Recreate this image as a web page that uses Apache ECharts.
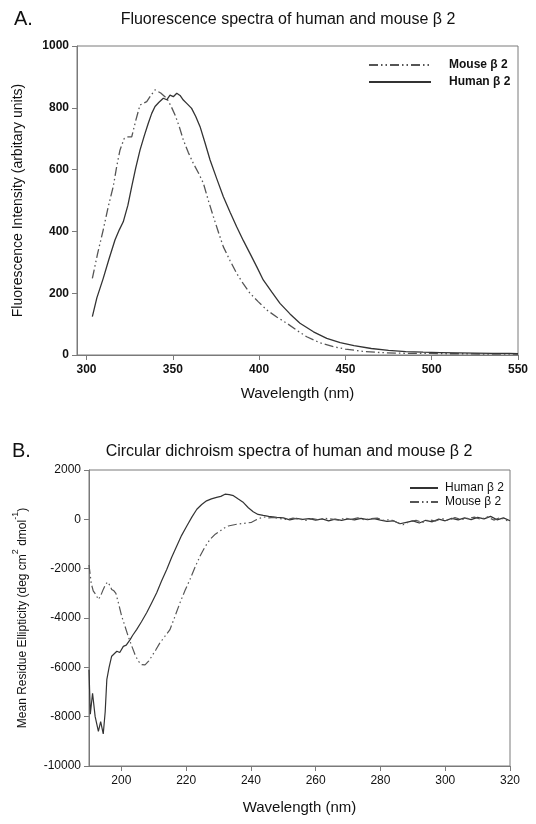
<!DOCTYPE html>
<html>
<head>
<meta charset="utf-8">
<script src="https://cdn.jsdelivr.net/npm/echarts@6/dist/echarts.min.js"></script>
<style>
html,body{margin:0;padding:0;background:#fff;}
#c{width:536px;height:824px;}
</style>
</head>
<body>
<div id="c"></div>
<script>
// ---------- Panel A: fluorescence ----------
var fluHumanWl  = [303.4,306,309.7,313,316.5,319,321.3,324,326.2,328.5,331,333.5,335.8,337.8,339.7,342,344.5,346.5,348.4,350.3,352.3,354.2,356.1,358.5,360.9,363.3,365.8,368.7,371.6,375.5,379.3,383.2,387,390.9,394.7,398.6,402.4,407.3,412.1,417.9,423.7,431.5,439.2,447,455,465,475,485,495,505,515,525,535,545,550];
var fluHumanVal = [124,185,248,310,372,405,431,485,545,605,663,710,750,782,804,818,831,826,841,836,847,840,825,812,798,772,739,686,631,570,512,462,415,370,329,286,243,204,167,133,103,75,54,40,30,21,15,11,9,8,7,6,5,5,4];
var fluMouseWl  = [303.4,306.5,309.7,312.6,315.5,317.5,319.4,321.8,324.2,326.2,328.6,331,334.9,337.3,339.7,343,346.5,349,351.3,353.7,356.1,359,361.9,364.8,367.7,370.6,373.5,376.4,379.3,383.2,387,390.9,394.7,399.6,404.4,410.2,416,421.8,427.6,435,443,450,460,470,480,490,500,510,520,530,540,550];
var fluMouseVal = [248,330,405,480,545,610,663,700,706,706,760,809,820,840,858,848,831,805,777,740,696,655,620,590,556,500,448,398,350,305,264,230,200,172,146,123,103,80,59,40,27,19,12,8,6,5,5,4,4,3,3,3];
var fluXTicks = [300,350,400,450,500,550];

// ---------- Panel B: circular dichroism ----------
var cdHumanWl  = [190,190.4,191.1,191.9,192.9,193.6,194.4,195,195.5,196.2,197,198.6,199.5,200.6,201.5,202.7,203.5,204.7,206.2,207.8,209.3,210.9,212.4,214,215.5,217.1,218.6,220.2,221.8,223.3,224.8,226.3,227.8,229.4,230.7,232,233.3,234.6,236.1,237.7,239.2,240.7,242.2,243.8,245.5,248,250,252,254,256,258,260,262,264,266,268,270,272,274,276,278,280,282,284,286,288,290,292,294,296,298,300,302,304,306,308,310,312,314,316,318,320];
var cdHumanVal = [-6100,-7900,-7050,-8000,-8600,-8200,-8700,-7800,-6500,-6000,-5550,-5350,-5400,-5150,-5100,-4875,-4700,-4470,-4150,-3790,-3400,-2980,-2500,-2030,-1550,-1080,-650,-270,100,410,600,750,830,890,930,1020,1000,960,820,680,470,310,200,160,120,80,60,-20,40,0,30,-30,20,-60,10,-40,20,-20,40,-10,30,-30,-80,-60,-180,-120,-60,-150,-40,-100,10,-60,40,-20,60,-10,80,20,120,-20,60,-60];
var cdMouseWl  = [190,190.7,191.3,192.1,192.9,193.6,194.4,195.1,195.7,196.3,197,197.7,198.3,199.2,200.1,201.1,202.1,203.1,204.2,205.2,206.3,207.3,208.4,209.4,210.6,211.9,213.4,215,216.5,218.1,219.6,221.2,222.7,224.3,225.8,227.4,229,230.5,231.8,233,235.6,238.7,240.2,241.8,243.8,245.5,247,249,251,253,255,257,259,261,263,265,267,269,271,273,275,277,279,281,283,285,287,289,291,293,295,297,299,301,303,305,307,309,311,313,315,317,319,320];
var cdMouseVal = [-1850,-2600,-2900,-3050,-3250,-3100,-2840,-2650,-2540,-2650,-2840,-2900,-3000,-3450,-3930,-4330,-4740,-5100,-5480,-5750,-5890,-5900,-5750,-5550,-5300,-5010,-4750,-4470,-3950,-3380,-2900,-2430,-1950,-1490,-1120,-810,-600,-470,-350,-270,-200,-150,-120,-10,100,60,80,30,-10,50,0,-40,30,-20,40,10,-30,50,0,60,-20,30,50,-40,-10,-120,-220,-90,-40,-130,-20,-70,30,-40,70,-10,40,90,0,100,-30,70,-50,-20];
var cdXTicks = [200,220,240,260,280,300,320];

var legendText = {fluMouse: 'Mouse β 2', fluHuman: 'Human β 2', cdHuman: 'Human β 2', cdMouse: 'Mouse β 2'};

function zip(a, b) { var o = []; for (var i = 0; i < a.length; i++) o.push([a[i], b[i]]); return o; }
function plain(v) { return String(v); }

var FONT = 'Liberation Sans, Arial, sans-serif';
var frame = '#7a7a7a';
var dashDot = [9, 3, 1.5, 3, 1.5, 3];

var chart = echarts.init(document.getElementById('c'), null, {renderer: 'canvas'});
chart.setOption({
  backgroundColor: '#fff',
  animation: false,
  title: [
    {text: 'A.', left: 9, top: 4, textStyle: {fontFamily: FONT, fontSize: 20, fontWeight: 'normal', color: '#111'}},
    {text: 'Fluorescence spectra of human and mouse β 2', left: 283, top: 7, textAlign: 'center',
     textStyle: {fontFamily: FONT, fontSize: 16, fontWeight: 'normal', color: '#111'}},
    {text: 'B.', left: 7, top: 436, textStyle: {fontFamily: FONT, fontSize: 20, fontWeight: 'normal', color: '#111'}},
    {text: 'Circular dichroism spectra of human and mouse β 2', left: 284, top: 439, textAlign: 'center',
     textStyle: {fontFamily: FONT, fontSize: 16, fontWeight: 'normal', color: '#111'}}
  ],
  legend: [
    {data: ['fluMouse', 'fluHuman'], orient: 'vertical', left: 368, top: 59, padding: 0,
     itemWidth: 62, itemHeight: 12, itemGap: 5, selectedMode: false,
     itemStyle: {opacity: 0},
     formatter: function (n) { return legendText[n]; },
     textStyle: {fontFamily: FONT, fontSize: 12, fontWeight: 'bold', color: '#111', padding: [0, 0, 0, 13]}},
    {data: ['cdHuman', 'cdMouse'], orient: 'vertical', left: 409, top: 482, padding: 0,
     itemWidth: 28, itemHeight: 12, itemGap: 2, selectedMode: false,
     itemStyle: {opacity: 0},
     formatter: function (n) { return legendText[n]; },
     textStyle: {fontFamily: FONT, fontSize: 12, color: '#111', padding: [0, 0, 0, 2]}}
  ],
  grid: [
    {left: 77, top: 46, width: 441, height: 309, show: true, borderColor: frame, borderWidth: 1, containLabel: false},
    {left: 89, top: 470, width: 421, height: 296, show: true, borderColor: frame, borderWidth: 1, containLabel: false}
  ],
  xAxis: [
    {gridIndex: 0, type: 'value', min: 294.5, max: 550,
     name: 'Wavelength (nm)', nameLocation: 'middle', nameGap: 31,
     nameTextStyle: {fontFamily: FONT, fontSize: 15, color: '#111'},
     axisLine: {show: true, onZero: false, lineStyle: {color: frame}},
     axisTick: {show: true, inside: false, length: 5, lineStyle: {color: frame}, customValues: fluXTicks},
     axisLabel: {customValues: fluXTicks, formatter: plain, fontFamily: FONT, fontSize: 12, fontWeight: 'bold', color: '#111', margin: 9},
     splitLine: {show: false}},
    {gridIndex: 1, type: 'value', min: 190, max: 320,
     name: 'Wavelength (nm)', nameLocation: 'middle', nameGap: 34,
     nameTextStyle: {fontFamily: FONT, fontSize: 15, color: '#111'},
     axisLine: {show: true, onZero: false, lineStyle: {color: frame}},
     axisTick: {show: true, inside: false, length: 5, lineStyle: {color: frame}, customValues: cdXTicks},
     axisLabel: {customValues: cdXTicks, formatter: plain, fontFamily: FONT, fontSize: 12, color: '#111', margin: 9},
     splitLine: {show: false}}
  ],
  yAxis: [
    {gridIndex: 0, type: 'value', min: 0, max: 1000, interval: 200,
     name: 'Fluorescence Intensity (arbitary units)', nameLocation: 'middle', nameGap: 52,
     nameTextStyle: {fontFamily: FONT, fontSize: 14, color: '#111'},
     axisLine: {show: true, onZero: false, lineStyle: {color: frame}},
     axisTick: {show: true, inside: false, length: 5, lineStyle: {color: frame}},
     axisLabel: {formatter: plain, fontFamily: FONT, fontSize: 12, fontWeight: 'bold', color: '#111', margin: 8},
     splitLine: {show: false}},
    {gridIndex: 1, type: 'value', min: -10000, max: 2000, interval: 2000,
     name: '{a|Mean Residue Ellipticity (deg cm}{s|2}{a| dmol}{s|-1}{a|)}', nameLocation: 'middle', nameGap: 60,
     nameTextStyle: {fontFamily: FONT, fontSize: 12, color: '#111',
       rich: {a: {fontFamily: FONT, fontSize: 12, color: '#111', lineHeight: 18, verticalAlign: 'bottom'},
              s: {fontFamily: FONT, fontSize: 9, color: '#111', lineHeight: 18, verticalAlign: 'top'}}},
     axisLine: {show: true, onZero: false, lineStyle: {color: frame}},
     axisTick: {show: true, inside: false, length: 5, lineStyle: {color: frame}},
     axisLabel: {formatter: plain, fontFamily: FONT, fontSize: 12, color: '#111', margin: 8},
     splitLine: {show: false}}
  ],
  series: [
    {name: 'fluMouse', type: 'line', xAxisIndex: 0, yAxisIndex: 0, data: zip(fluMouseWl, fluMouseVal),
     showSymbol: false, symbol: 'none', lineStyle: {color: '#555', width: 1.3, type: dashDot}, itemStyle: {color: '#555', opacity: 0}},
    {name: 'fluHuman', type: 'line', xAxisIndex: 0, yAxisIndex: 0, data: zip(fluHumanWl, fluHumanVal),
     showSymbol: false, symbol: 'none', lineStyle: {color: '#333', width: 1.3, type: 'solid'}, itemStyle: {color: '#333', opacity: 0}},
    {name: 'cdHuman', type: 'line', xAxisIndex: 1, yAxisIndex: 1, data: zip(cdHumanWl, cdHumanVal),
     showSymbol: false, symbol: 'none', lineStyle: {color: '#333', width: 1.2, type: 'solid'}, itemStyle: {color: '#333', opacity: 0}},
    {name: 'cdMouse', type: 'line', xAxisIndex: 1, yAxisIndex: 1, data: zip(cdMouseWl, cdMouseVal),
     showSymbol: false, symbol: 'none', lineStyle: {color: '#555', width: 1.2, type: dashDot}, itemStyle: {color: '#555', opacity: 0}}
  ]
});
</script>
</body>
</html>
